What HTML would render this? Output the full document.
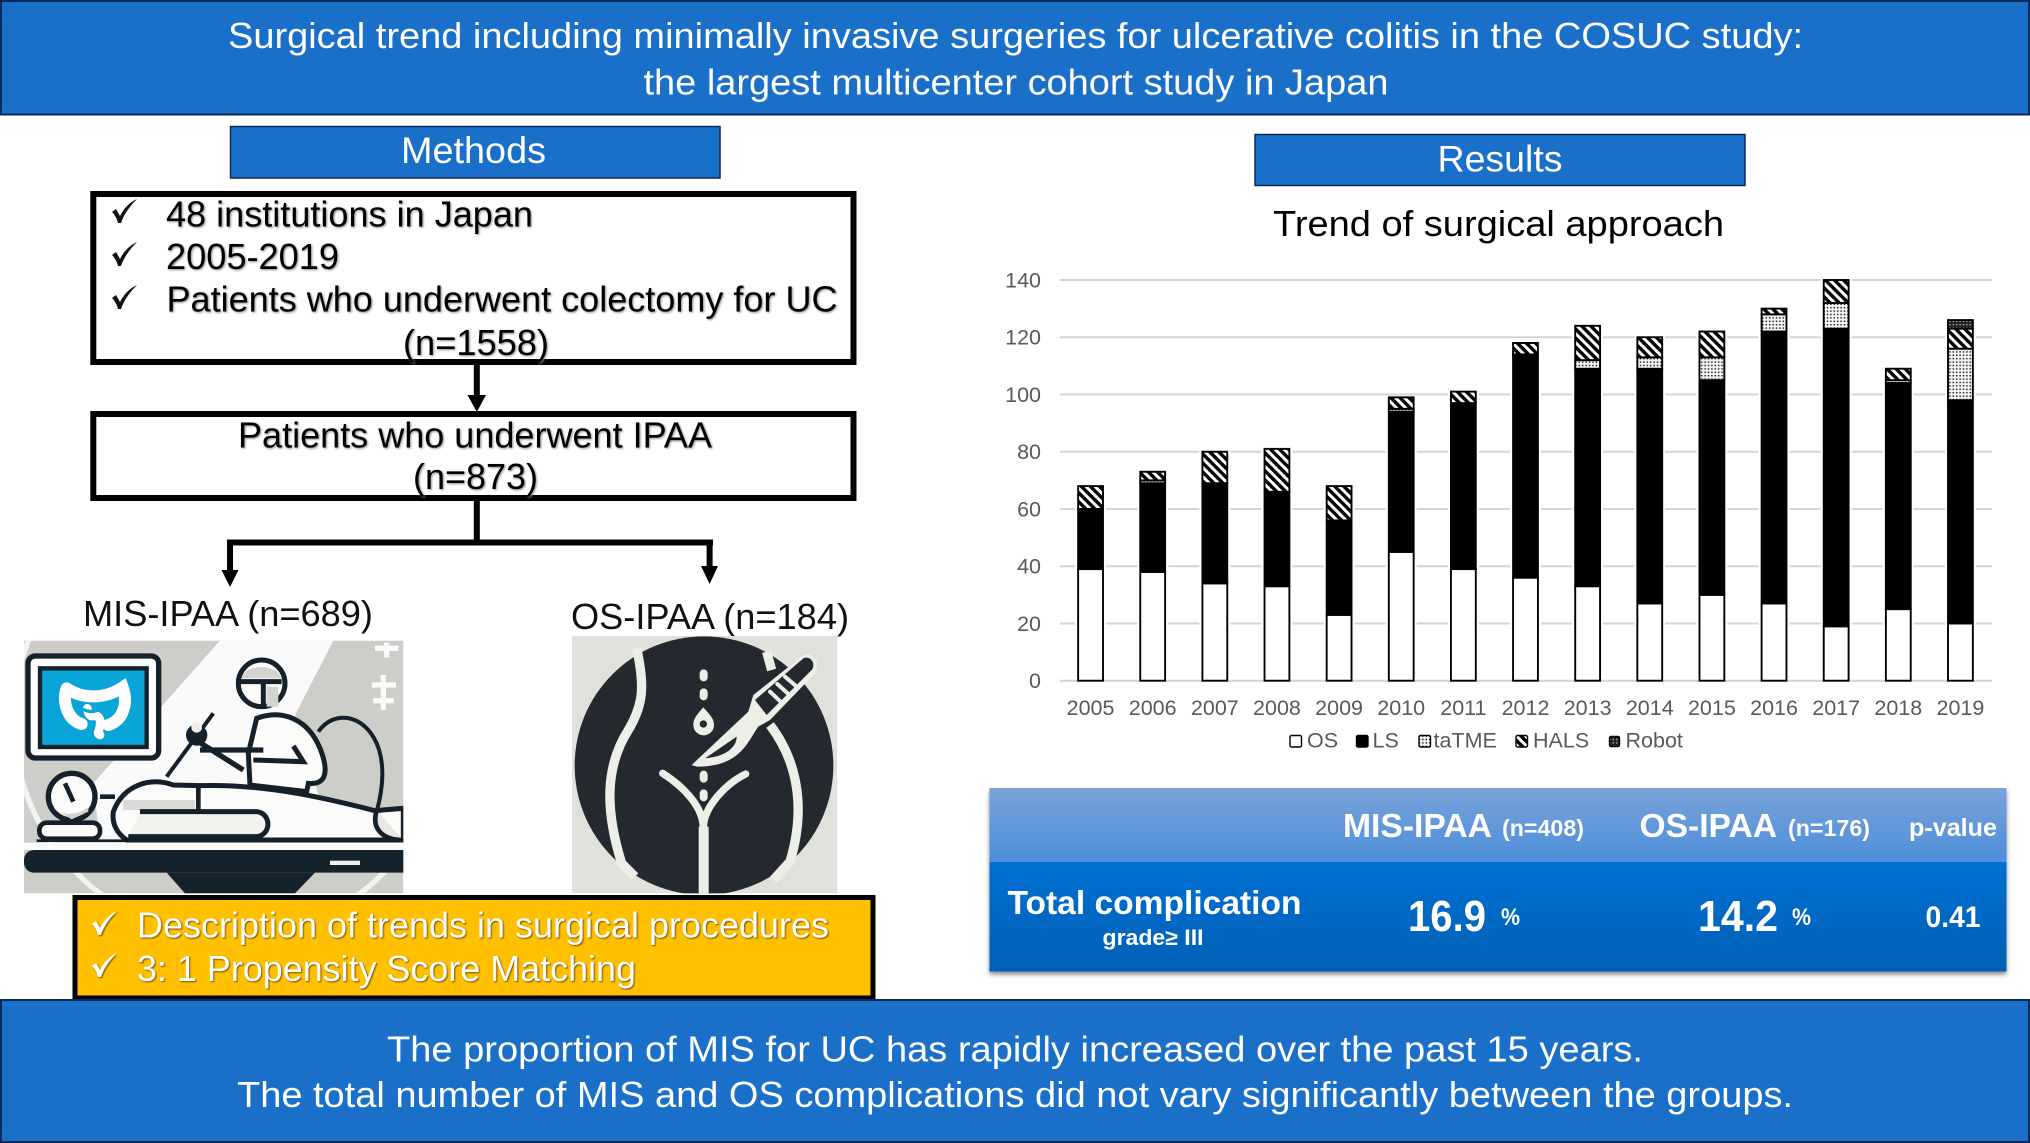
<!DOCTYPE html>
<html lang="en">
<head>
<meta charset="utf-8">
<title>Surgical trend including minimally invasive surgeries for ulcerative colitis in the COSUC study</title>
<style>
html,body{margin:0;padding:0;background:#fff;}
svg{display:block;font-family:"Liberation Sans",Arial,sans-serif;}
.sh{filter:drop-shadow(1.5px 1.5px 1px #8a8a8a);}
.shy{filter:drop-shadow(1.5px 1.5px .8px #7a5200);}
</style>
</head>
<body>
<svg id="root" xmlns="http://www.w3.org/2000/svg" width="2030" height="1143" viewBox="0 0 2030 1143">
<defs>
  <pattern id="hatch" width="6.4" height="6.4" patternUnits="userSpaceOnUse" patternTransform="rotate(45)">
    <rect width="6.4" height="6.4" fill="#fff"/><rect width="6.4" height="3.4" fill="#000"/>
  </pattern>
  <pattern id="dots" width="3.4" height="3.4" patternUnits="userSpaceOnUse">
    <rect width="3.4" height="3.4" fill="#f4f4f4"/><circle cx="1.7" cy="1.7" r=".85" fill="#222"/>
  </pattern>
  <pattern id="dense" width="3.4" height="3.4" patternUnits="userSpaceOnUse">
    <rect width="3.4" height="3.4" fill="#222"/><circle cx="1.7" cy="1.7" r=".8" fill="#aaa"/>
  </pattern>
  <linearGradient id="thead" x1="0" y1="0" x2="0" y2="1"><stop offset="0" stop-color="#79a3da"/><stop offset="1" stop-color="#4d8ed9"/></linearGradient>
  <linearGradient id="tbody" x1="0" y1="0" x2="0" y2="1"><stop offset="0" stop-color="#0070d2"/><stop offset="1" stop-color="#0060b6"/></linearGradient>
  <clipPath id="clipA"><rect x="72" y="62" width="1138" height="758"/></clipPath>
  <clipPath id="clipB"><rect x="96" y="48" width="796" height="772"/></clipPath>
  <filter id="tshadow" x="-2%" y="-5%" width="104%" height="115%"><feDropShadow dx="0" dy="3" stdDeviation="2.5" flood-color="#000" flood-opacity=".45"/></filter>
  <path id="chk" d="M0,13 L4,10 L8,17 C12,9 18,3 25,0 C18,7 12,15 9,24 L6,24 C5,20 3,16 0,13 Z"/>
</defs>

<rect width="2030" height="1143" fill="#fff"/>

<!-- header -->
<rect x="1" y="1" width="2028" height="113.5" fill="#1a70c8" stroke="#0b2a5c" stroke-width="2"/>
<text x="228" y="48" font-size="36" fill="#fff" textLength="1575" lengthAdjust="spacingAndGlyphs">Surgical trend including minimally invasive surgeries for ulcerative colitis in the COSUC study:</text>
<text x="643.5" y="94.5" font-size="36" fill="#fff" textLength="745" lengthAdjust="spacingAndGlyphs">the largest multicenter cohort study in Japan</text>

<!-- methods -->
<rect x="230.5" y="126.5" width="489.5" height="51.5" fill="#1a70c8" stroke="#0b2a5c" stroke-width="1.5"/>
<text x="401" y="163" font-size="37" fill="#fff" textLength="145" lengthAdjust="spacingAndGlyphs">Methods</text>

<rect x="93.3" y="194" width="760.2" height="168" fill="#fff" stroke="#000" stroke-width="6"/>
<use href="#chk" x="112" y="199" fill="#111"/>
<use href="#chk" x="112" y="242" fill="#111"/>
<use href="#chk" x="112" y="285" fill="#111"/>
<g class="sh">
<text x="166" y="226.5" font-size="36" fill="#000" textLength="367" lengthAdjust="spacingAndGlyphs">48 institutions in Japan</text>
<text x="166" y="269" font-size="36" fill="#000" textLength="173" lengthAdjust="spacingAndGlyphs">2005-2019</text>
<text x="166.5" y="311.5" font-size="36" fill="#000" textLength="671" lengthAdjust="spacingAndGlyphs">Patients who underwent colectomy for UC</text>
<text x="403" y="355" font-size="36" fill="#000" textLength="146" lengthAdjust="spacingAndGlyphs">(n=1558)</text>
</g>

<g fill="#000">
  <rect x="473.8" y="365" width="6" height="32"/><polygon points="467.5,395 486,395 476.8,412"/>
</g>

<rect x="93.3" y="414" width="760.2" height="84" fill="#fff" stroke="#000" stroke-width="6"/>
<g class="sh">
<text x="238" y="447.5" font-size="36" fill="#000" textLength="474" lengthAdjust="spacingAndGlyphs">Patients who underwent IPAA</text>
<text x="413" y="489" font-size="36" fill="#000" textLength="125" lengthAdjust="spacingAndGlyphs">(n=873)</text>
</g>

<g fill="#000">
  <rect x="473.8" y="501" width="6" height="40"/>
  <rect x="227.5" y="539.5" width="485.5" height="6"/>
  <rect x="227" y="539.5" width="6" height="32"/><polygon points="221.5,570 238.5,570 230,587"/>
  <rect x="706.6" y="539.5" width="6" height="28"/><polygon points="701,566 718,566 709.6,584"/>
</g>

<text x="83" y="626" font-size="36" fill="#111" textLength="290" lengthAdjust="spacingAndGlyphs">MIS-IPAA (n=689)</text>
<text x="571" y="629" font-size="36" fill="#111" textLength="278" lengthAdjust="spacingAndGlyphs">OS-IPAA (n=184)</text>

<!-- laparoscopic illustration -->
<g transform="translate(0,620) scale(.33333)" clip-path="url(#clipA)">
  <rect x="72" y="62" width="1138" height="758" fill="#cdcec9"/>
  <polygon points="660,62 1000,62 885,285 960,540 1210,575 1210,665 300,665 280,490" fill="#fafafa"/>
  <circle cx="690" cy="300" r="650" fill="none" stroke="#f2f2ef" stroke-width="16"/>
  <g stroke="#fafafa" stroke-width="16" fill="none"><path d="M1160,68 V112 M1125,85 H1195 M1150,165 V270 M1115,195 H1188 M1120,242 H1182"/></g>
  <rect x="84" y="108" width="392" height="306" rx="22" fill="#fff" stroke="#14202a" stroke-width="16"/>
  <rect x="120" y="145" width="320" height="236" fill="#09a5d8" stroke="#14202a" stroke-width="13"/>
  <path d="M200,205 C250,240 320,235 368,202 C385,250 370,300 325,315 M200,205 C185,250 205,300 245,312" fill="none" stroke="#fff" stroke-width="36" stroke-linecap="round"/>
  <path d="M262,265 C268,310 290,270 300,300 C305,330 285,340 300,345" fill="none" stroke="#fff" stroke-width="26" stroke-linecap="round"/>
  <path d="M225,255 C250,270 275,285 300,265 C320,255 335,265 345,240" fill="none" stroke="#09a5d8" stroke-width="10"/>
  <path d="M955,335 C1000,270 1090,280 1130,370 C1160,440 1145,520 1130,575" fill="#cdcec9" stroke="#14202a" stroke-width="12"/>
  <path d="M745,400 L770,295 C850,265 925,300 960,385 C990,460 975,495 925,490 L920,515 L750,495 Z" fill="#fbfbfa" stroke="#14202a" stroke-width="15"/>
  <path d="M760,420 L910,425 L880,378" fill="none" stroke="#14202a" stroke-width="15"/>
  <circle cx="785" cy="190" r="70" fill="#fbfbfa" stroke="#14202a" stroke-width="15"/>
  <path d="M725,175 C735,130 830,130 845,175 Z" fill="#d3d4d0"/>
  <path d="M708,185 H845 M790,190 V265" stroke="#14202a" stroke-width="15" fill="none"/>
  <rect x="800" y="200" width="35" height="60" fill="#d3d4d0"/>
  <path d="M500,470 L640,280" stroke="#14202a" stroke-width="12"/>
  <path d="M595,365 L730,450 M600,390 H790" stroke="#14202a" stroke-width="16" fill="none"/>
  <circle cx="590" cy="345" r="32" fill="#14202a"/><circle cx="590" cy="322" r="16" fill="#eee"/>
  <path d="M340,575 C370,495 450,470 520,495 L600,497 C800,490 1000,540 1125,572 L1210,565 V660 H380 C350,640 335,610 340,575 Z" fill="#fbfbfa" stroke="#14202a" stroke-width="15"/>
  <rect x="370" y="540" width="215" height="30" fill="#d9dad6"/>
  <path d="M595,497 V570 M300,530 H345" stroke="#14202a" stroke-width="14" fill="none"/>
  <path d="M420,575 H770 C815,580 815,645 770,650 H385" fill="#f1f1ee" stroke="#14202a" stroke-width="15"/>
  <path d="M1130,572 C1115,620 1140,660 1210,660" fill="#e8e8e4" stroke="#14202a" stroke-width="14"/>
  <circle cx="215" cy="530" r="70" fill="#fbfbfa" stroke="#14202a" stroke-width="16"/>
  <path d="M195,490 L220,545" stroke="#14202a" stroke-width="14"/>
  <path d="M160,565 C190,590 240,585 265,560 L265,575 L215,598 Z" fill="#d3d4d0"/>
  <rect x="118" y="608" width="182" height="48" rx="22" fill="#fbfbfa" stroke="#14202a" stroke-width="14"/>
  <path d="M110,662 H1210" stroke="#14202a" stroke-width="8"/>
  <rect x="72" y="668" width="1160" height="22" fill="#fbfbfa"/>
  <rect x="72" y="690" width="1180" height="68" rx="30" fill="#14232b"/>
  <polygon points="500,758 945,758 885,820 555,820" fill="#14232b"/>
  <rect x="990" y="722" width="90" height="13" fill="#f0f0ee"/>
</g>

<!-- open surgery illustration -->
<g transform="translate(540,620) scale(.33333)" clip-path="url(#clipB)">
  <rect x="96" y="48" width="796" height="772" fill="#e1e1db"/>
  <circle cx="492" cy="437" r="388" fill="#23292f"/>
  <g fill="none" stroke="#eeeee9" stroke-width="28">
    <path d="M290,85 C315,200 310,255 265,330 C195,440 195,570 245,730 L285,770"/>
    <path d="M690,315 C770,420 800,560 750,725 L700,780"/>
    <path d="M680,95 L695,150"/>
  </g>
  <g fill="none" stroke="#eeeee9" stroke-width="22" stroke-linecap="round">
    <path d="M368,460 C430,500 490,560 490,625 M617,462 C560,490 490,560 490,625"/>
  </g>
  <rect x="476" y="620" width="30" height="210" fill="#eeeee9"/>
  <g fill="#eeeee9">
    <rect x="479" y="148" width="24" height="36" rx="12"/>
    <rect x="479" y="205" width="24" height="36" rx="12"/>
    <rect x="479" y="452" width="24" height="36" rx="12"/>
    <rect x="479" y="508" width="24" height="36" rx="12"/>
    <path d="M490,262 C510,285 522,295 522,315 A31,31 0 0 1 460,315 C460,295 470,285 490,262 Z"/>
  </g>
  <circle cx="490" cy="312" r="11" fill="#23292f"/>
  <path d="M455,435 L625,275 L640,225 L790,105 C820,95 845,130 825,160 L690,300 L655,320 C620,370 600,440 470,440 Z" fill="#eeeee9"/>
  <path d="M645,240 L790,115 C810,105 830,130 815,150 L680,285 Z" fill="#23292f"/>
  <path d="M495,415 L590,350 C590,380 560,410 495,415 Z" fill="#23292f"/>
  <path d="M690,215 L722,245 M712,192 L745,222 M735,170 L768,198" stroke="#eeeee9" stroke-width="12" stroke-linecap="round"/>
</g>

<!-- yellow method box -->
<rect x="75" y="897.5" width="798" height="100.5" fill="#ffc000" stroke="#000" stroke-width="5"/>
<g class="shy">
<use href="#chk" x="92" y="911" fill="#fff"/>
<use href="#chk" x="92" y="953" fill="#fff"/>
<text x="137" y="937.5" font-size="36" fill="#fff" textLength="692" lengthAdjust="spacingAndGlyphs">Description of trends in surgical procedures</text>
<text x="137" y="981" font-size="36" fill="#fff" textLength="499" lengthAdjust="spacingAndGlyphs">3: 1 Propensity Score Matching</text>
</g>

<!-- results -->
<rect x="1255" y="134.5" width="490" height="51" fill="#1a70c8" stroke="#0b2a5c" stroke-width="1.5"/>
<text x="1437.5" y="171.5" font-size="37" fill="#fff" textLength="125" lengthAdjust="spacingAndGlyphs">Results</text>
<text x="1273" y="236" font-size="36" fill="#000" textLength="451" lengthAdjust="spacingAndGlyphs">Trend of surgical approach</text>

<g id="chart"></g>

<!-- table -->
<g>
  <rect x="989.5" y="788" width="1017" height="183.5" fill="#0060b6" filter="url(#tshadow)"/>
  <rect x="989.5" y="788" width="1017" height="74" fill="url(#thead)"/>
  <rect x="989.5" y="862" width="1017" height="109.5" fill="url(#tbody)"/>
  <g fill="#fff" font-weight="bold">
    <text x="1343" y="837" font-size="33" textLength="149" lengthAdjust="spacingAndGlyphs">MIS-IPAA</text>
    <text x="1502" y="836" font-size="23" textLength="82" lengthAdjust="spacingAndGlyphs">(n=408)</text>
    <text x="1639.5" y="837" font-size="33" textLength="137.5" lengthAdjust="spacingAndGlyphs">OS-IPAA</text>
    <text x="1788" y="836" font-size="23" textLength="82" lengthAdjust="spacingAndGlyphs">(n=176)</text>
    <text x="1909" y="836" font-size="25" textLength="88" lengthAdjust="spacingAndGlyphs">p-value</text>
    <text x="1007.5" y="914" font-size="33" textLength="294" lengthAdjust="spacingAndGlyphs">Total complication</text>
    <text x="1102.5" y="945" font-size="22" textLength="101" lengthAdjust="spacingAndGlyphs">grade≥ III</text>
    <text x="1408" y="931" font-size="44" textLength="78" lengthAdjust="spacingAndGlyphs">16.9</text>
    <text x="1501" y="925" font-size="24" textLength="19" lengthAdjust="spacingAndGlyphs">%</text>
    <text x="1698" y="931" font-size="44" textLength="80" lengthAdjust="spacingAndGlyphs">14.2</text>
    <text x="1792" y="925" font-size="24" textLength="19" lengthAdjust="spacingAndGlyphs">%</text>
    <text x="1925.5" y="927" font-size="30" textLength="55" lengthAdjust="spacingAndGlyphs">0.41</text>
  </g>
</g>

<!-- footer -->
<rect x="1" y="1000" width="2028" height="142" fill="#1a70c8" stroke="#0b2a5c" stroke-width="2"/>
<text x="387" y="1061.5" font-size="36" fill="#fff" textLength="1256" lengthAdjust="spacingAndGlyphs">The proportion of MIS for UC has rapidly increased over the past 15 years.</text>
<text x="237" y="1107" font-size="36" fill="#fff" textLength="1556" lengthAdjust="spacingAndGlyphs">The total number of MIS and OS complications did not vary significantly between the groups.</text>
</svg>

<script>
const years = ['2005','2006','2007','2008','2009','2010','2011','2012','2013','2014','2015','2016','2017','2018','2019'];
const osValues = [39,38,34,33,23,45,39,36,33,27,30,27,19,25,20];
const lsValues = [21,31,35,33,33,49,58,78,76,82,75,95,104,79,78];
const tatmeValues = [0,1,0,0,0,1,0,0,3,4,8,6,9,1,18];
const halsValues = [8,3,11,15,12,4,4,4,12,7,9,2,8,4,7];
const robotValues = [0,0,0,0,0,0,0,0,0,0,0,0,0,0,3];
const yTickValues = [0,20,40,60,80,100,120,140];
const seriesNames = ['OS','LS','taTME','HALS','Robot'];

const NS = 'http://www.w3.org/2000/svg';
const chart = document.getElementById('chart');
const plotLeft = 1060, plotRight = 1992, plotTop = 280, plotBottom = 680.7, yMax = 140;
const band = (plotRight - plotLeft) / years.length;
const barWidth = band * 0.4;
function yScale(v) { return plotBottom - (v / yMax) * (plotBottom - plotTop); }
function xScale(i) { return plotLeft + band * (i + 0.5) - 0.5; }
function make(tag, attrs) {
  const el = document.createElementNS(NS, tag);
  for (const k in attrs) el.setAttribute(k, attrs[k]);
  chart.appendChild(el);
  return el;
}
const seriesFill = ['#fff', '#000', 'url(#dots)', 'url(#hatch)', 'url(#dense)'];
const seriesData = [osValues, lsValues, tatmeValues, halsValues, robotValues];

yTickValues.forEach(function (t) {
  const line = make('line', {x1: plotLeft, x2: plotRight, y1: yScale(t), y2: yScale(t), stroke: '#d4d4d4', 'stroke-width': 2});
  
  
  const label = make('text', {x: 1041, y: yScale(t) + 7.5, 'text-anchor': 'end', 'font-size': 21.5, fill: '#595959'});
  label.textContent = t;
  
  
});

years.forEach(function (year, i) {
  let total = 0;
  seriesData.forEach(function (s) { total += s[i]; });
  const cx = xScale(i);
  const halo = make('rect', {x: cx - barWidth / 2 - 3, y: yScale(total) - 1, width: barWidth + 6, height: yScale(0) - yScale(total), fill: '#fff'});
  
  
  let base = 0;
  seriesData.forEach(function (s, k) {
    const v = s[i];
    if (!v) return;
    const seg = make('rect', {x: cx - barWidth / 2, y: yScale(base + v), width: barWidth, height: yScale(base) - yScale(base + v), fill: seriesFill[k], stroke: '#000', 'stroke-width': 1.9});
    
    
    base += v;
  });
  const label = make('text', {x: cx, y: 715, 'text-anchor': 'middle', 'font-size': 21.5, fill: '#595959'});
  label.textContent = year;
  
  
});

const legendSwatchX = [1290, 1356.5, 1419, 1516, 1609.5];
const legendTextX = [1307, 1372.5, 1433.5, 1533, 1625.5];
seriesNames.forEach(function (name, k) {
  const size = k === 4 ? 10 : 11.5;
  const swatch = make('rect', {x: legendSwatchX[k], y: 735.5 + (k === 4 ? 1 : 0), width: size, height: size, fill: seriesFill[k], stroke: '#000', 'stroke-width': 1.4, rx: 1.5});
  
  
  const text = make('text', {x: legendTextX[k], y: 747.5, 'font-size': 21.5, fill: '#595959'});
  text.textContent = name;
  
  
});
</script>
</body>
</html>
